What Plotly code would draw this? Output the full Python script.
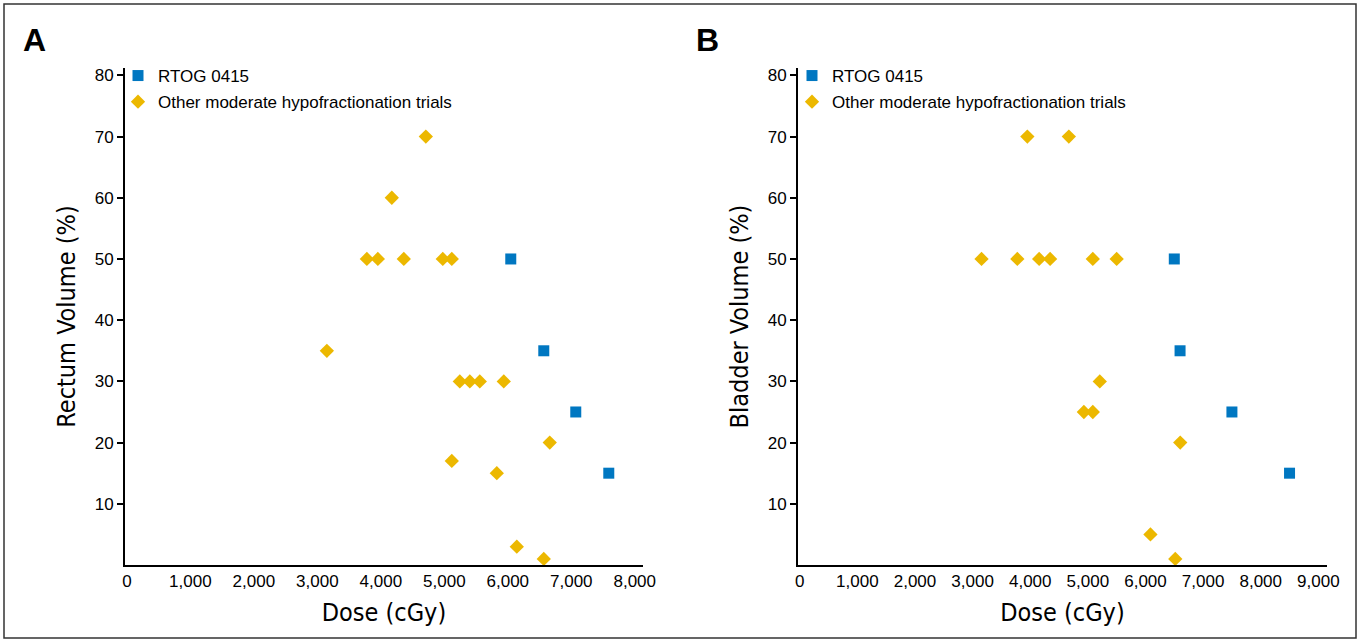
import plotly.graph_objects as go

# ---------------- data ----------------
# Panel A: rectum
a_rtog_dose = [6047, 6567, 7071, 7591]
a_rtog_vol = [50, 35, 25, 15]
a_other_dose = [4709, 4173, 3780, 3953, 4362, 4976, 5118, 3150, 5244, 5402, 5559, 5937, 6661, 5118, 5827, 6142, 6567]
a_other_vol = [70, 60, 50, 50, 50, 50, 50, 35, 30, 30, 30, 30, 20, 17, 15, 3, 1]

# Panel B: bladder
b_rtog_dose = [6500, 6600, 7500, 8500]
b_rtog_vol = [50, 35, 25, 15]
b_other_dose = [3950, 4670, 3155, 3776, 4155, 4345, 5086, 5500, 5207, 4931, 5086, 6603, 6086, 6517]
b_other_vol = [70, 70, 50, 50, 50, 50, 50, 50, 30, 25, 25, 20, 5, 1]

x_ticks_a = [0, 1000, 2000, 3000, 4000, 5000, 6000, 7000, 8000]
x_ticks_b = [0, 1000, 2000, 3000, 4000, 5000, 6000, 7000, 8000, 9000]
y_ticks = [10, 20, 30, 40, 50, 60, 70, 80]

series_names = ["RTOG 0415", "Other moderate hypofractionation trials"]

BLUE = "#0077C1"
YELLOW = "#ECB800"
W, H = 1360, 643

NARROW = "Liberation Sans Narrow, DejaVu Sans Condensed, Arial Narrow, sans-serif"
SANS = "Liberation Sans, Arial, Helvetica, sans-serif"

fig = go.Figure()

def add_panel(xa, ya, legend, rd, rv, od, ov):
    fig.add_trace(go.Scatter(x=rd, y=rv, mode="markers", name=series_names[0],
                             marker=dict(symbol="square", size=11, color=BLUE),
                             xaxis=xa, yaxis=ya, legend=legend, legendgroup=legend + "r"))
    fig.add_trace(go.Scatter(x=od, y=ov, mode="markers", name=series_names[1],
                             marker=dict(symbol="diamond", size=11, color=YELLOW),
                             xaxis=xa, yaxis=ya, legend=legend, legendgroup=legend + "o"))

add_panel("x", "y", "legend", a_rtog_dose, a_rtog_vol, a_other_dose, a_other_vol)
add_panel("x2", "y2", "legend2", b_rtog_dose, b_rtog_vol, b_other_dose, b_other_vol)

ydom = [1 - 565 / H, 1 - 68 / H]

common_x = dict(showline=True, linecolor="black", linewidth=2, showgrid=False, zeroline=False,
                automargin=False,
                ticks="", tickformat=",", tickfont=dict(family=SANS, size=17, color="black"),
                title=dict(text="Dose (cGy)", font=dict(family=NARROW, size=25, color="black"), standoff=13))
common_y = dict(showline=True, linecolor="black", linewidth=2, showgrid=False, zeroline=False,
                automargin=False,
                ticks="outside", ticklen=6, tickwidth=1.5, tickcolor="black",
                tickvals=y_ticks, range=[0, 81.2],
                tickfont=dict(family=SANS, size=17, color="black"))

fig.update_layout(
    width=W, height=H,
    margin=dict(l=0, r=0, t=0, b=0, autoexpand=False),
    paper_bgcolor="white", plot_bgcolor="white",
    xaxis=dict(domain=[125 / W, 643 / W], range=[-30, 8130], tickvals=x_ticks_a, anchor="y", **common_x),
    yaxis=dict(domain=ydom, anchor="x",
               title=dict(text="Rectum Volume (%)", font=dict(family=NARROW, size=25, color="black"), standoff=12),
               **common_y),
    xaxis2=dict(domain=[798 / W, 1327 / W], range=[-30, 9150], tickvals=x_ticks_b, anchor="y2", **common_x),
    yaxis2=dict(domain=ydom, anchor="x2",
                title=dict(text="Bladder Volume (%)", font=dict(family=NARROW, size=25, color="black"), standoff=12),
                **common_y),
    legend=dict(x=118 / W, y=1 - 58 / H, xanchor="left", yanchor="top", bgcolor="rgba(0,0,0,0)",
                font=dict(family=SANS, size=17, color="black"), tracegroupgap=1, traceorder="grouped"),
    legend2=dict(x=792 / W, y=1 - 58 / H, xanchor="left", yanchor="top", bgcolor="rgba(0,0,0,0)",
                 font=dict(family=SANS, size=17, color="black"), tracegroupgap=1, traceorder="grouped"),
    showlegend=True,
)

fig.add_annotation(text="<b>A</b>", x=21 / W, y=1 - 40 / H, xref="paper", yref="paper",
                   xanchor="left", yanchor="middle", showarrow=False,
                   font=dict(family=SANS, size=32, color="black"))
fig.add_annotation(text="<b>B</b>", x=694 / W, y=1 - 40 / H, xref="paper", yref="paper",
                   xanchor="left", yanchor="middle", showarrow=False,
                   font=dict(family=SANS, size=32, color="black"))

fig.add_shape(type="rect", xref="paper", yref="paper", x0=4 / W, x1=1356 / W, y0=1 - 638 / H, y1=1 - 4 / H,
              line=dict(color="#333333", width=1.5))

fig.write_html("out.html", config={"displayModeBar": False},
               post_script="document.body.style.margin='0';document.body.style.overflow='hidden';")
